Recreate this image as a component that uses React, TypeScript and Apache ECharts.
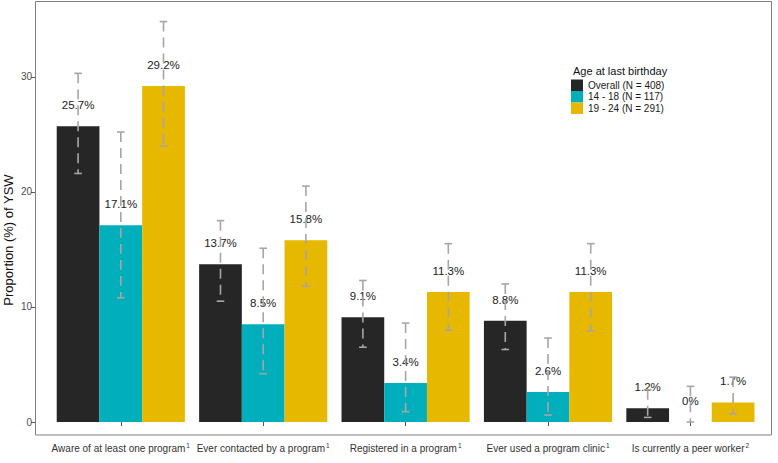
import React, { useEffect, useRef } from "react";
import * as echarts from "echarts";

const categories = [
  "Aware of at least one program",
  "Ever contacted by a program",
  "Registered in a program",
  "Ever used a program clinic",
  "Is currently a peer worker",
];
const superscripts = ["1", "1", "1", "1", "2"];
const seriesNames = ["Overall (N = 408)", "14 - 18 (N = 117)", "19 - 24 (N = 291)"];
const overall = [25.7, 13.7, 9.1, 8.8, 1.2];
const age1418 = [17.1, 8.5, 3.4, 2.6, 0];
const age1924 = [29.2, 15.8, 11.3, 11.3, 1.7];
const overallLow = [21.6, 10.5, 6.5, 6.3, 0.4];
const overallHigh = [30.3, 17.5, 12.3, 12.0, 2.8];
const age1418Low = [10.8, 4.2, 0.9, 0.6, 0];
const age1418High = [25.2, 15.1, 8.6, 7.3, 3.1];
const age1924Low = [24.0, 11.8, 8.0, 7.9, 0.7];
const age1924High = [34.8, 20.5, 15.5, 15.5, 3.9];
const yTicks = [0, 10, 20, 30];

const colors = ["#262626", "#00AFBB", "#E7B800"];
const FONT = "'Liberation Sans', Arial, sans-serif";

export default function App() {
  const ref = useRef<HTMLDivElement>(null);
  useEffect(() => {
    if (!ref.current) return;
    const chart = echarts.init(ref.current, null, { renderer: "svg" });
    const values = [overall, age1418, age1924];
    const lows = [overallLow, age1418Low, age1924Low];
    const highs = [overallHigh, age1418High, age1924High];

    const barSeries = values.map((v, k) => ({
      type: "bar",
      name: seriesNames[k],
      data: v,
      barWidth: "30%",
      barGap: "0%",
      itemStyle: { color: colors[k] },
      label: {
        show: true,
        position: "top",
        distance: 15,
        formatter: "{c}%",
        fontSize: 11.5,
        fontFamily: FONT,
        color: "#222",
      },
      z: 2,
    }));

    const errSeries = values.map((v, k) => ({
      type: "custom",
      name: "err" + k,
      data: v.map((_, i) => [i, lows[k][i], highs[k][i]]),
      encode: { x: 0, y: [1, 2] },
      z: 5,
      silent: true,
      clip: false,
      renderItem: (params: any, api: any) => {
        const ci = api.value(0);
        const lo = api.value(1);
        const hi = api.value(2);
        const band = api.size([1, 0])[0];
        const bw = band * 0.3;
        const x = api.coord([ci, 0])[0] + (k - 1) * bw;
        const yl = api.coord([ci, lo])[1];
        const yh = api.coord([ci, hi])[1];
        const half = 3.8;
        const st = { stroke: "#a6a6a6", lineWidth: 1.6, fill: "none" };
        return {
          type: "group",
          children: [
            { type: "line", shape: { x1: x, y1: yh, x2: x, y2: yl }, style: { ...st, lineDash: [10, 6] } },
            { type: "line", shape: { x1: x - half, y1: yh, x2: x + half, y2: yh }, style: st },
            { type: "line", shape: { x1: x - half, y1: yl, x2: x + half, y2: yl }, style: st },
          ],
        };
      },
    }));

    chart.setOption({
      animation: false,
      textStyle: { fontFamily: FONT },
      grid: { left: 49.6, right: 16.4, top: 2, bottom: 41 },
      legend: {
        data: seriesNames,
        orient: "vertical",
        left: 571,
        top: 79.5,
        padding: 0,
        itemWidth: 12,
        itemHeight: 11.5,
        itemGap: 0,
        icon: "rect",
        textStyle: { fontSize: 10, color: "#1a1a1a", fontFamily: FONT, lineHeight: 11.5 },
      },
      xAxis: {
        type: "category",
        data: categories,
        offset: 13,
        axisLine: { show: false },
        axisTick: { show: true, alignWithLabel: true, length: 4, lineStyle: { color: "#555" } },
        axisLabel: {
          interval: 0,
          hideOverlap: false,
          margin: 7,
          formatter: (v: string, i: number) => `{t|${v}}{s|${superscripts[i]}}`,
          rich: {
            t: { fontSize: 10, color: "#333", fontFamily: FONT },
            s: { fontSize: 6.5, color: "#333", fontFamily: FONT, padding: [0, 0, 6, 1] },
          },
        },
      },
      yAxis: {
        type: "value",
        min: 0,
        max: 36.5,
        interval: 10,
        offset: 14.6,
        axisLine: { show: false },
        splitLine: { show: false },
        axisTick: { show: true, length: 4, lineStyle: { color: "#555" }, customValues: yTicks },
        axisLabel: { margin: 3, fontSize: 10, color: "#4d4d4d", fontFamily: FONT, customValues: yTicks },
      },
      graphic: [
        {
          type: "rect",
          shape: { x: 35.5, y: 1.5, width: 736, height: 433.5 },
          style: { fill: "none", stroke: "#808080", lineWidth: 1 },
          silent: true,
          z: 10,
        },
        {
          type: "text",
          x: 8,
          y: 240,
          rotation: Math.PI / 2,
          style: {
            text: "Proportion (%) of YSW",
            fontSize: 13,
            fontFamily: FONT,
            fill: "#111",
            textAlign: "center",
            textVerticalAlign: "middle",
          },
        },
        {
          type: "text",
          x: 573,
          y: 71,
          style: {
            text: "Age at last birthday",
            fontSize: 11,
            fontFamily: FONT,
            fill: "#111",
            textAlign: "left",
            textVerticalAlign: "middle",
          },
        },
      ],
      series: [...barSeries, ...errSeries],
    });
    return () => chart.dispose();
  }, []);
  return (
    <div
      ref={ref}
      style={{ position: "absolute", left: 0, top: 0, width: 778, height: 463 }}
    />
  );
}
